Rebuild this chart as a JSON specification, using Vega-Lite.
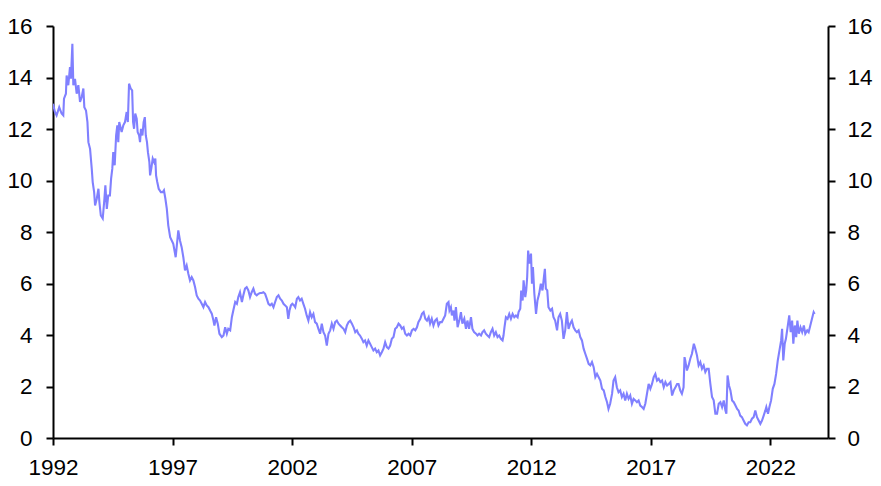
{
  "$schema": "https://vega.github.io/schema/vega-lite/v6.json",
  "width": 775,
  "height": 412,
  "autosize": {"type": "none"},
  "padding": {"left": 53, "top": 26, "right": 53, "bottom": 48},
  "background": "white",
  "config": {
    "view": {"stroke": null},
    "axis": {
      "labelFont": "Liberation Sans",
      "labelFontSize": 22.5,
      "labelColor": "black",
      "domainColor": "black",
      "tickColor": "black",
      "domainWidth": 2,
      "tickWidth": 2,
      "grid": false,
      "title": null
    }
  },
  "data": {"values": [
    {"year":1992.00,"value":12.98},{"year":1992.08,"value":12.66},{"year":1992.15,"value":12.53},{"year":1992.26,"value":12.85},{"year":1992.36,"value":12.60},{"year":1992.43,"value":12.53},{"year":1992.46,"value":13.18},{"year":1992.54,"value":13.37},{"year":1992.57,"value":14.08},{"year":1992.64,"value":13.70},{"year":1992.71,"value":14.40},{"year":1992.75,"value":13.95},{"year":1992.81,"value":15.31},{"year":1992.85,"value":13.70},{"year":1992.92,"value":13.95},{"year":1992.99,"value":13.37},{"year":1993.06,"value":13.70},{"year":1993.13,"value":13.05},{"year":1993.20,"value":13.24},{"year":1993.27,"value":13.57},{"year":1993.31,"value":12.85},{"year":1993.38,"value":12.72},{"year":1993.44,"value":12.27},{"year":1993.48,"value":11.49},{"year":1993.55,"value":11.23},{"year":1993.62,"value":10.46},{"year":1993.66,"value":9.94},{"year":1993.72,"value":9.55},{"year":1993.76,"value":9.03},{"year":1993.83,"value":9.29},{"year":1993.90,"value":9.68},{"year":1993.94,"value":9.16},{"year":1994.00,"value":8.64},{"year":1994.08,"value":8.52},{"year":1994.15,"value":9.29},{"year":1994.19,"value":9.81},{"year":1994.25,"value":8.90},{"year":1994.31,"value":9.42},{"year":1994.38,"value":9.42},{"year":1994.43,"value":10.07},{"year":1994.48,"value":10.46},{"year":1994.52,"value":11.10},{"year":1994.58,"value":10.59},{"year":1994.64,"value":11.75},{"year":1994.69,"value":12.14},{"year":1994.73,"value":11.49},{"year":1994.77,"value":12.27},{"year":1994.87,"value":11.88},{"year":1994.94,"value":12.14},{"year":1995.01,"value":12.27},{"year":1995.08,"value":12.66},{"year":1995.13,"value":12.27},{"year":1995.18,"value":13.76},{"year":1995.25,"value":13.57},{"year":1995.31,"value":13.50},{"year":1995.35,"value":12.27},{"year":1995.39,"value":12.01},{"year":1995.44,"value":12.60},{"year":1995.50,"value":12.40},{"year":1995.54,"value":11.88},{"year":1995.60,"value":11.75},{"year":1995.64,"value":11.49},{"year":1995.68,"value":12.01},{"year":1995.74,"value":11.75},{"year":1995.79,"value":12.27},{"year":1995.84,"value":12.46},{"year":1995.88,"value":11.75},{"year":1995.93,"value":11.49},{"year":1995.97,"value":11.10},{"year":1996.03,"value":10.71},{"year":1996.06,"value":10.20},{"year":1996.11,"value":10.46},{"year":1996.17,"value":10.85},{"year":1996.23,"value":10.71},{"year":1996.28,"value":10.85},{"year":1996.31,"value":10.20},{"year":1996.36,"value":9.94},{"year":1996.42,"value":9.68},{"year":1996.51,"value":9.55},{"year":1996.59,"value":9.55},{"year":1996.64,"value":9.62},{"year":1996.70,"value":9.29},{"year":1996.76,"value":8.90},{"year":1996.82,"value":8.26},
    {"year":1996.90,"value":7.80},{"year":1997.03,"value":7.54},{"year":1997.13,"value":7.02},{"year":1997.24,"value":8.06},{"year":1997.31,"value":7.67},{"year":1997.38,"value":7.41},{"year":1997.45,"value":7.02},{"year":1997.52,"value":6.51},{"year":1997.59,"value":6.70},{"year":1997.66,"value":6.38},{"year":1997.73,"value":6.12},{"year":1997.80,"value":6.25},{"year":1997.87,"value":6.12},{"year":1997.94,"value":5.86},{"year":1998.01,"value":5.54},{"year":1998.08,"value":5.41},{"year":1998.15,"value":5.34},{"year":1998.22,"value":5.21},{"year":1998.29,"value":5.08},{"year":1998.36,"value":5.28},{"year":1998.43,"value":5.15},{"year":1998.50,"value":5.08},{"year":1998.57,"value":4.95},{"year":1998.64,"value":4.83},{"year":1998.71,"value":4.56},{"year":1998.75,"value":4.37},{"year":1998.82,"value":4.69},{"year":1998.89,"value":4.44},{"year":1998.96,"value":4.05},{"year":1999.06,"value":3.92},{"year":1999.13,"value":3.98},{"year":1999.20,"value":4.30},{"year":1999.27,"value":4.05},{"year":1999.33,"value":4.24},{"year":1999.41,"value":4.18},{"year":1999.48,"value":4.69},{"year":1999.54,"value":4.95},{"year":1999.62,"value":5.28},{"year":1999.69,"value":5.21},{"year":1999.75,"value":5.47},{"year":1999.82,"value":5.66},{"year":1999.90,"value":5.28},{"year":1999.96,"value":5.54},{"year":2000.03,"value":5.80},{"year":2000.10,"value":5.86},{"year":2000.17,"value":5.73},{"year":2000.24,"value":5.47},{"year":2000.31,"value":5.66},{"year":2000.38,"value":5.80},{"year":2000.45,"value":5.60},{"year":2000.52,"value":5.54},{"year":2000.59,"value":5.60},{"year":2000.66,"value":5.63},{"year":2000.73,"value":5.63},{"year":2000.80,"value":5.66},{"year":2000.87,"value":5.60},{"year":2000.94,"value":5.41},{"year":2001.01,"value":5.21},{"year":2001.08,"value":5.15},{"year":2001.15,"value":5.21},{"year":2001.22,"value":5.08},{"year":2001.29,"value":5.28},{"year":2001.36,"value":5.47},{"year":2001.43,"value":5.54},{"year":2001.50,"value":5.41},{"year":2001.57,"value":5.34},{"year":2001.64,"value":5.21},{"year":2001.71,"value":5.15},{"year":2001.78,"value":5.08},{"year":2001.84,"value":4.63},{"year":2001.89,"value":4.95},{"year":2001.95,"value":5.15},{"year":2002.01,"value":5.21},{"year":2002.08,"value":5.15},
    {"year":2002.13,"value":5.08},{"year":2002.20,"value":5.41},{"year":2002.26,"value":5.47},{"year":2002.33,"value":5.34},{"year":2002.40,"value":5.41},{"year":2002.47,"value":5.21},{"year":2002.54,"value":5.02},{"year":2002.61,"value":4.76},{"year":2002.68,"value":4.56},{"year":2002.75,"value":4.89},{"year":2002.82,"value":4.69},{"year":2002.89,"value":4.82},{"year":2002.96,"value":4.50},{"year":2003.03,"value":4.44},{"year":2003.10,"value":4.24},{"year":2003.17,"value":4.05},{"year":2003.24,"value":4.44},{"year":2003.31,"value":4.11},{"year":2003.38,"value":3.98},{"year":2003.45,"value":3.59},{"year":2003.52,"value":4.05},{"year":2003.59,"value":4.18},{"year":2003.66,"value":4.44},{"year":2003.73,"value":4.24},{"year":2003.80,"value":4.50},{"year":2003.87,"value":4.56},{"year":2003.94,"value":4.44},{"year":2004.01,"value":4.37},{"year":2004.08,"value":4.30},{"year":2004.15,"value":4.24},{"year":2004.22,"value":4.11},{"year":2004.29,"value":4.37},{"year":2004.36,"value":4.50},{"year":2004.43,"value":4.56},{"year":2004.50,"value":4.44},{"year":2004.57,"value":4.30},{"year":2004.64,"value":4.11},{"year":2004.71,"value":4.18},{"year":2004.77,"value":4.05},{"year":2004.84,"value":3.98},{"year":2004.92,"value":3.85},{"year":2004.98,"value":3.72},{"year":2005.05,"value":3.79},{"year":2005.12,"value":3.59},{"year":2005.19,"value":3.79},{"year":2005.26,"value":3.66},{"year":2005.33,"value":3.53},{"year":2005.40,"value":3.40},{"year":2005.47,"value":3.47},{"year":2005.54,"value":3.33},{"year":2005.61,"value":3.40},{"year":2005.68,"value":3.21},{"year":2005.75,"value":3.33},{"year":2005.82,"value":3.47},{"year":2005.89,"value":3.72},{"year":2005.96,"value":3.53},{"year":2006.03,"value":3.47},{"year":2006.10,"value":3.59},{"year":2006.17,"value":3.85},{"year":2006.24,"value":3.92},{"year":2006.31,"value":4.24},{"year":2006.38,"value":4.30},{"year":2006.45,"value":4.44},{"year":2006.52,"value":4.37},{"year":2006.59,"value":4.24},{"year":2006.66,"value":4.30},{"year":2006.73,"value":4.05},{"year":2006.80,"value":3.98},{"year":2006.87,"value":4.05},{"year":2006.94,"value":3.98},{"year":2007.01,"value":4.18},{"year":2007.08,"value":4.24},
    {"year":2007.15,"value":4.18},{"year":2007.22,"value":4.30},{"year":2007.28,"value":4.50},{"year":2007.36,"value":4.63},{"year":2007.43,"value":4.82},{"year":2007.50,"value":4.89},{"year":2007.57,"value":4.63},{"year":2007.64,"value":4.56},{"year":2007.71,"value":4.69},{"year":2007.77,"value":4.44},{"year":2007.84,"value":4.63},{"year":2007.91,"value":4.37},{"year":2007.98,"value":4.56},{"year":2008.05,"value":4.63},{"year":2008.12,"value":4.37},{"year":2008.19,"value":4.50},{"year":2008.26,"value":4.50},{"year":2008.33,"value":4.63},{"year":2008.40,"value":4.76},{"year":2008.47,"value":5.21},{"year":2008.54,"value":5.28},{"year":2008.58,"value":4.95},{"year":2008.64,"value":5.08},{"year":2008.68,"value":4.76},{"year":2008.75,"value":4.95},{"year":2008.79,"value":4.56},{"year":2008.85,"value":5.08},{"year":2008.92,"value":4.30},{"year":2008.99,"value":4.56},{"year":2009.06,"value":4.89},{"year":2009.12,"value":4.44},{"year":2009.20,"value":4.63},{"year":2009.27,"value":4.24},{"year":2009.33,"value":4.56},{"year":2009.40,"value":4.24},{"year":2009.48,"value":4.69},{"year":2009.54,"value":4.24},{"year":2009.61,"value":4.11},{"year":2009.69,"value":4.05},{"year":2009.75,"value":3.98},{"year":2009.82,"value":4.05},{"year":2009.90,"value":3.98},{"year":2009.96,"value":4.11},{"year":2010.03,"value":4.18},{"year":2010.10,"value":4.05},{"year":2010.17,"value":3.98},{"year":2010.24,"value":3.92},{"year":2010.31,"value":4.11},{"year":2010.38,"value":4.24},{"year":2010.45,"value":3.98},{"year":2010.52,"value":4.11},{"year":2010.59,"value":3.92},{"year":2010.66,"value":3.98},{"year":2010.73,"value":3.85},{"year":2010.80,"value":3.79},{"year":2010.84,"value":3.98},{"year":2010.88,"value":4.30},{"year":2010.94,"value":4.69},{"year":2011.01,"value":4.63},{"year":2011.08,"value":4.82},{"year":2011.15,"value":4.63},{"year":2011.22,"value":4.82},{"year":2011.29,"value":4.69},{"year":2011.36,"value":4.76},{"year":2011.43,"value":4.69},{"year":2011.47,"value":4.89},{"year":2011.54,"value":5.02},{"year":2011.58,"value":5.73},{"year":2011.64,"value":5.34},{"year":2011.68,"value":6.12},{"year":2011.75,"value":5.47},{"year":2011.79,"value":5.73},{"year":2011.83,"value":6.25},{"year":2011.87,"value":7.28},{"year":2011.93,"value":6.77},{"year":2011.99,"value":7.16},{"year":2012.03,"value":5.99},{"year":2012.07,"value":6.64},{"year":2012.13,"value":5.60},{"year":2012.20,"value":4.82},{"year":2012.26,"value":5.34},{"year":2012.33,"value":5.60},{"year":2012.40,"value":5.99},{"year":2012.47,"value":5.73},{"year":2012.53,"value":6.25},{"year":2012.57,"value":6.57},{"year":2012.61,"value":5.80},{"year":2012.67,"value":5.73},{"year":2012.72,"value":5.08},{"year":2012.80,"value":4.95},{"year":2012.87,"value":5.02},{"year":2012.93,"value":4.69},
    {"year":2013.00,"value":4.56},{"year":2013.08,"value":4.18},{"year":2013.14,"value":4.69},{"year":2013.21,"value":4.82},{"year":2013.28,"value":4.56},{"year":2013.35,"value":3.85},{"year":2013.42,"value":4.18},{"year":2013.49,"value":4.89},{"year":2013.56,"value":4.24},{"year":2013.63,"value":4.44},{"year":2013.70,"value":4.56},{"year":2013.77,"value":4.30},{"year":2013.84,"value":4.18},{"year":2013.91,"value":4.11},{"year":2013.98,"value":4.18},{"year":2014.05,"value":3.92},{"year":2014.12,"value":3.79},{"year":2014.19,"value":3.47},{"year":2014.26,"value":3.27},{"year":2014.33,"value":3.08},{"year":2014.40,"value":2.88},{"year":2014.47,"value":2.82},{"year":2014.54,"value":2.95},{"year":2014.61,"value":2.75},{"year":2014.68,"value":2.36},{"year":2014.75,"value":2.49},{"year":2014.82,"value":2.36},{"year":2014.89,"value":2.23},{"year":2014.96,"value":1.91},{"year":2015.03,"value":1.85},{"year":2015.10,"value":1.59},{"year":2015.17,"value":1.39},{"year":2015.23,"value":1.13},{"year":2015.30,"value":1.33},{"year":2015.38,"value":1.72},{"year":2015.44,"value":2.23},{"year":2015.51,"value":2.36},{"year":2015.58,"value":1.97},{"year":2015.65,"value":1.78},{"year":2015.72,"value":1.85},{"year":2015.79,"value":1.59},{"year":2015.86,"value":1.72},{"year":2015.93,"value":1.46},{"year":2016.00,"value":1.72},{"year":2016.07,"value":1.52},{"year":2016.14,"value":1.65},{"year":2016.21,"value":1.33},{"year":2016.28,"value":1.52},{"year":2016.35,"value":1.46},{"year":2016.42,"value":1.39},{"year":2016.49,"value":1.46},{"year":2016.56,"value":1.26},{"year":2016.63,"value":1.20},{"year":2016.70,"value":1.13},{"year":2016.77,"value":1.33},{"year":2016.84,"value":1.72},{"year":2016.91,"value":2.10},{"year":2016.98,"value":1.91},{"year":2017.05,"value":2.10},{"year":2017.12,"value":2.36},{"year":2017.19,"value":2.49},{"year":2017.26,"value":2.23},{"year":2017.33,"value":2.30},{"year":2017.40,"value":2.17},{"year":2017.47,"value":2.23},{"year":2017.54,"value":1.97},{"year":2017.61,"value":2.17},{"year":2017.68,"value":2.04},{"year":2017.75,"value":2.10},{"year":2017.82,"value":2.17},{"year":2017.89,"value":1.65},{"year":2017.96,"value":1.85},{"year":2018.03,"value":1.97},{"year":2018.10,"value":2.10},{"year":2018.16,"value":2.10},{"year":2018.23,"value":1.85},{"year":2018.30,"value":1.72},{"year":2018.37,"value":1.97},{"year":2018.41,"value":3.14},
    {"year":2018.44,"value":3.01},{"year":2018.51,"value":2.62},{"year":2018.58,"value":2.82},{"year":2018.65,"value":3.08},{"year":2018.72,"value":3.27},{"year":2018.80,"value":3.66},{"year":2018.86,"value":3.47},{"year":2018.93,"value":3.21},{"year":2019.00,"value":2.82},{"year":2019.07,"value":2.95},{"year":2019.14,"value":2.69},{"year":2019.21,"value":2.82},{"year":2019.28,"value":2.56},{"year":2019.35,"value":2.69},{"year":2019.42,"value":2.69},{"year":2019.49,"value":2.10},{"year":2019.56,"value":1.59},{"year":2019.63,"value":1.46},{"year":2019.70,"value":0.94},{"year":2019.77,"value":0.94},{"year":2019.84,"value":1.33},{"year":2019.91,"value":1.39},{"year":2019.98,"value":1.20},{"year":2020.05,"value":1.46},{"year":2020.12,"value":1.07},{"year":2020.16,"value":0.94},{"year":2020.21,"value":2.43},{"year":2020.27,"value":2.04},{"year":2020.33,"value":1.85},{"year":2020.40,"value":1.46},{"year":2020.47,"value":1.39},{"year":2020.54,"value":1.26},{"year":2020.61,"value":1.13},{"year":2020.67,"value":1.07},{"year":2020.74,"value":0.87},{"year":2020.81,"value":0.81},{"year":2020.88,"value":0.68},{"year":2020.95,"value":0.55},{"year":2021.02,"value":0.49},{"year":2021.09,"value":0.61},{"year":2021.16,"value":0.61},{"year":2021.23,"value":0.75},{"year":2021.30,"value":0.81},{"year":2021.37,"value":1.07},{"year":2021.44,"value":0.81},{"year":2021.51,"value":0.68},{"year":2021.58,"value":0.55},{"year":2021.65,"value":0.68},{"year":2021.72,"value":0.87},{"year":2021.79,"value":1.07},{"year":2021.83,"value":1.20},{"year":2021.90,"value":0.94},{"year":2021.96,"value":1.20},{"year":2022.03,"value":1.46},{"year":2022.10,"value":1.91},{"year":2022.17,"value":2.10},{"year":2022.24,"value":2.49},{"year":2022.31,"value":3.01},{"year":2022.38,"value":3.40},{"year":2022.45,"value":3.79},{"year":2022.49,"value":4.24},{"year":2022.54,"value":3.01},{"year":2022.60,"value":3.66},{"year":2022.65,"value":3.85},{"year":2022.72,"value":4.30},{"year":2022.79,"value":4.76},{"year":2022.85,"value":4.11},{"year":2022.91,"value":4.56},{"year":2022.96,"value":3.66},{"year":2023.02,"value":4.37},{"year":2023.08,"value":3.92},{"year":2023.13,"value":4.56},{"year":2023.19,"value":4.05},{"year":2023.26,"value":4.30},{"year":2023.33,"value":4.11},{"year":2023.40,"value":4.37},{"year":2023.46,"value":4.05},{"year":2023.54,"value":4.18},{"year":2023.60,"value":4.11},{"year":2023.67,"value":4.37},{"year":2023.74,"value":4.63},{"year":2023.81,"value":4.89},{"year":2023.85,"value":4.82}
  ]},
  "encoding": {
    "x": {
      "field": "year",
      "type": "quantitative",
      "scale": {"domain": [1992, 2024.41], "nice": false, "zero": false},
      "axis": {"values": [1992, 1997, 2002, 2007, 2012, 2017, 2022], "format": "d", "tickSize": 7, "labelPadding": 11, "labelFlush": false, "labelOverlap": false}
    }
  },
  "layer": [
    {
      "mark": {"type": "line", "color": "#8080ff", "strokeWidth": 2.1, "clip": true},
      "encoding": {
        "y": {
          "field": "value",
          "type": "quantitative",
          "scale": {"domain": [0, 16], "nice": false},
          "axis": {"orient": "left", "values": [0, 2, 4, 6, 8, 10, 12, 14, 16], "tickSize": 7, "labelPadding": 14}
        }
      }
    },
    {
      "mark": {"type": "line", "opacity": 0},
      "encoding": {
        "y": {
          "field": "value",
          "type": "quantitative",
          "scale": {"domain": [0, 16], "nice": false},
          "axis": {"orient": "right", "values": [0, 2, 4, 6, 8, 10, 12, 14, 16], "tickSize": 7, "labelPadding": 12}
        }
      }
    }
  ],
  "resolve": {"axis": {"y": "independent"}}
}
